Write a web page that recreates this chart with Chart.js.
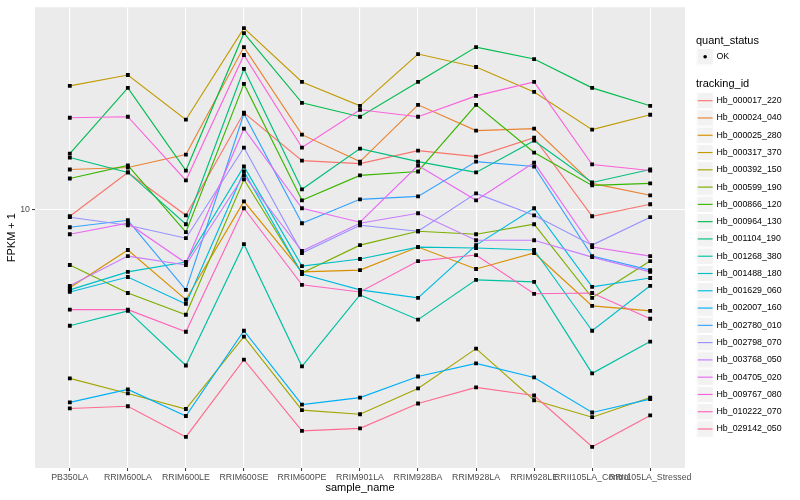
<!DOCTYPE html>
<html><head><meta charset="utf-8">
<script src="https://cdn.jsdelivr.net/npm/chart.js@4.4.1/dist/chart.umd.min.js"></script>
<style>html,body{margin:0;padding:0;background:#fff;}canvas{display:block;}</style>
</head><body>
<canvas id="c" width="800" height="500"></canvas>
<script>
const categories = ["PB350LA","RRIM600LA","RRIM600LE","RRIM600SE","RRIM600PE","RRIM901LA","RRIM928BA","RRIM928LA","RRIM928LE","RRII105LA_Control","RRII105LA_Stressed"];
const trackingIds = ["Hb_000017_220","Hb_000024_040","Hb_000025_280","Hb_000317_370","Hb_000392_150","Hb_000599_190","Hb_000866_120","Hb_000964_130","Hb_001104_190","Hb_001268_380","Hb_001488_180","Hb_001629_060","Hb_002007_160","Hb_002780_010","Hb_002798_070","Hb_003768_050","Hb_004705_020","Hb_009767_080","Hb_010222_070","Hb_029142_050"];
const seriesColors = ["#F8766D","#EA8331","#D89000","#C09B00","#A3A500","#7CAE00","#39B600","#00BB4E","#00BF7D","#00C1A3","#00BFC4","#00BAE0","#00B0F6","#35A2FF","#9590FF","#C77CFF","#E76BF3","#FA62DB","#FF62BC","#FF6C91"];
const statusLabels = ["OK"];
const yTickValues = [10];

// FPKM + 1 values, one array per tracking_id
const hb_000017_220 = [9.55,12.76,9.61,18.93,13.80,13.53,14.74,14.17,16.06,9.55,10.34];
const hb_000024_040 = [13.01,13.18,14.36,29.22,16.38,13.71,19.95,16.82,17.04,11.87,10.97];
const hb_000025_280 = [5.95,7.64,5.50,10.54,6.61,6.69,7.79,6.74,7.49,5.28,5.11];
const hb_000317_370 = [22.61,24.30,18.08,33.11,23.21,19.82,27.91,25.62,21.73,16.93,18.68];
const hb_000392_150 = [3.27,2.96,2.67,4.31,2.65,2.58,3.06,3.98,2.83,2.53,2.88];
const hb_000599_190 = [6.92,5.75,4.98,12.18,6.56,7.89,8.65,8.48,9.06,5.57,7.10];
const hb_000866_120 = [12.26,13.36,8.60,22.91,10.61,12.51,12.84,19.95,14.55,11.71,11.87];
const hb_000964_130 = [14.45,22.32,12.92,32.04,20.22,18.44,23.21,29.22,27.00,22.32,19.82];
const hb_001104_190 = [14.08,12.76,9.06,25.29,11.41,14.94,13.71,12.76,15.74,11.94,13.01];
const hb_001268_380 = [4.63,5.11,3.56,7.94,3.54,5.68,4.82,6.27,6.19,3.38,4.17];
const hb_001488_180 = [5.87,6.61,7.06,13.27,6.87,7.20,7.79,7.74,7.64,4.48,6.03];
const hb_001629_060 = [5.79,6.39,5.35,12.84,6.52,5.87,5.57,7.89,10.07,5.99,6.35];
const hb_002007_160 = [2.79,3.04,2.55,4.48,2.75,2.88,3.31,3.61,3.29,2.61,2.85];
const hb_002780_010 = [8.88,9.30,5.87,18.81,9.12,10.68,10.89,13.71,13.27,7.34,6.69];
const hb_002798_070 = [9.49,9.00,8.26,15.04,7.49,9.00,8.65,11.11,9.61,7.89,9.49];
const hb_003768_050 = [6.03,7.34,6.92,12.51,7.59,9.12,9.74,8.15,8.15,7.29,6.61];
const hb_004705_020 = [8.48,9.12,7.01,17.04,10.07,9.18,13.36,10.61,13.62,7.79,7.34];
const hb_009767_080 = [18.32,18.44,12.10,27.73,15.04,19.31,18.44,21.17,23.21,13.45,12.92];
const hb_010222_070 = [5.15,5.15,4.45,10.07,6.07,5.79,7.10,7.39,5.72,5.75,4.85];
const hb_029142_050 = [2.68,2.72,2.22,3.70,2.31,2.35,2.77,3.08,2.92,2.08,2.56];

const seriesList = [hb_000017_220,hb_000024_040,hb_000025_280,hb_000317_370,hb_000392_150,hb_000599_190,hb_000866_120,hb_000964_130,hb_001104_190,hb_001268_380,hb_001488_180,hb_001629_060,hb_002007_160,hb_002780_010,hb_002798_070,hb_003768_050,hb_004705_020,hb_009767_080,hb_010222_070,hb_029142_050];

const FONT = '"Liberation Sans", Arial, Helvetica, sans-serif';

const lineDatasets = seriesList.map((vals, i) => ({
  type: 'line',
  label: trackingIds[i],
  data: vals.map((v, j) => ({x: j, y: v})),
  borderColor: seriesColors[i],
  backgroundColor: seriesColors[i],
  borderWidth: 1.15,
  pointRadius: 0,
  fill: false,
  tension: 0,
  order: 100 - i
}));
const pointDataset = {
  type: 'line',
  label: statusLabels[0],
  showLine: false,
  data: seriesList.flatMap(vals => vals.map((v, j) => ({x: j, y: v}))),
  pointStyle: 'rect',
  pointRadius: 2.7,
  pointBorderWidth: 0,
  pointBackgroundColor: '#000000',
  pointBorderColor: '#000000',
  order: 0
};

const panelBg = {
  id: 'panelBg',
  beforeDraw(chart) {
    const {ctx, chartArea: a} = chart;
    ctx.save();
    ctx.fillStyle = '#EBEBEB';
    ctx.fillRect(a.left, a.top, a.right - a.left, a.bottom - a.top);
    ctx.restore();
  }
};

function drawKey(ctx, x, cy) {
  ctx.fillStyle = '#F2F2F2';
  ctx.fillRect(x, cy - 8.64, 17.28, 17.28);
  ctx.strokeStyle = '#FFFFFF';
  ctx.lineWidth = 1;
  ctx.strokeRect(x + 0.5, cy - 8.14, 16.28, 16.28);
}

const ggLegend = {
  id: 'ggLegend',
  afterDraw(chart) {
    const ctx = chart.ctx;
    const x0 = 696.5;
    ctx.save();
    ctx.textBaseline = 'middle';
    ctx.textAlign = 'left';
    ctx.fillStyle = '#000';
    ctx.font = '11px ' + FONT;
    ctx.fillText('quant_status', 696, 41);
    drawKey(ctx, x0, 56.7);
    ctx.fillStyle = '#000';
    ctx.beginPath(); ctx.arc(x0 + 8.64, 56.7, 1.8, 0, Math.PI * 2); ctx.fill();
    ctx.font = '8.8px ' + FONT;
    ctx.fillText(statusLabels[0], 716.5, 56.7);
    ctx.font = '11px ' + FONT;
    ctx.fillText('tracking_id', 696, 84.3);
    trackingIds.forEach((id, i) => {
      const cy = 100.7 + i * 17.28;
      drawKey(ctx, x0, cy);
      ctx.strokeStyle = seriesColors[i];
      ctx.lineWidth = 1.15;
      ctx.beginPath(); ctx.moveTo(x0 + 1.2, cy); ctx.lineTo(x0 + 16.1, cy); ctx.stroke();
      ctx.fillStyle = '#000';
      ctx.font = '8.8px ' + FONT;
      ctx.fillText(id, 716.5, cy);
    });
    ctx.restore();
  }
};

new Chart(document.getElementById('c'), {
  type: 'line',
  data: { datasets: [pointDataset, ...lineDatasets] },
  plugins: [panelBg, ggLegend],
  options: {
    responsive: false,
    animation: false,
    events: [],
    layout: { padding: { left: 0, top: 5, right: 115, bottom: 0 } },
    plugins: { legend: { display: false }, tooltip: { enabled: false } },
    scales: {
      x: {
        type: 'linear', min: -0.6, max: 10.6, bounds: 'data',
        afterBuildTicks: s => { s.ticks = categories.map((c, i) => ({ value: i })); },
        afterFit: s => { s.height = 32; },
        grid: { color: '#FFFFFF', lineWidth: 1.1, drawTicks: true, tickLength: 3, tickColor: '#333333', tickWidth: 1 },
        border: { display: false },
        ticks: { autoSkip: false, maxRotation: 0, minRotation: 0, padding: 1, color: '#4D4D4D',
          font: { family: FONT, size: 8.8 },
          callback: (v) => { const k = Math.round(v); return categories[k] !== undefined ? categories[k] : ''; } },
        title: { display: true, text: 'sample_name', color: '#000', font: { family: FONT, size: 11 }, padding: { top: 0, bottom: 5.4 } }
      },
      y: {
        type: 'logarithmic', min: 1.808, max: 38.02, bounds: 'data',
        afterBuildTicks: s => { s.ticks = yTickValues.map(v => ({ value: v })); },
        afterFit: s => { s.width = 35; },
        grid: { color: '#FFFFFF', lineWidth: 1.1, drawTicks: true, tickLength: 3, tickColor: '#333333', tickWidth: 1 },
        border: { display: false },
        ticks: { padding: 2, color: '#4D4D4D', font: { family: FONT, size: 8.8 },
          callback: (v) => String(v) },
        title: { display: true, text: 'FPKM + 1', color: '#000', font: { family: FONT, size: 11 }, padding: { top: 5.4, bottom: 0 } }
      }
    }
  }
});
</script>
</body></html>
